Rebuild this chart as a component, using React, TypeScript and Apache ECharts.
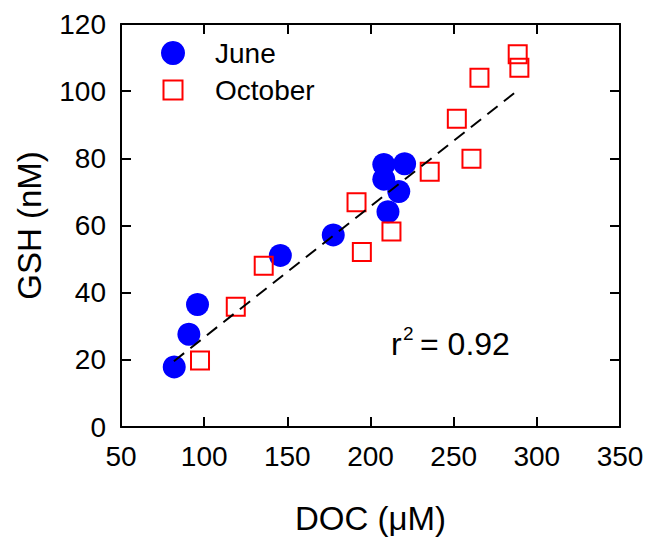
import React, { useEffect, useRef } from "react";
import * as echarts from "echarts";

// DOC (µM) and GSH (nM) values
const juneDOC = [82, 90.8, 96, 145.8, 177.6, 208, 220.5, 208, 217, 210.5];
const juneGSH = [17.9, 27.6, 36.5, 51.1, 57.2, 78.2, 78.4, 73.8, 70.1, 64.1];

const octDOC = [97.5, 119, 135.8, 191.6, 194.8, 212.6, 235.6, 260.7, 251.9, 265.5, 288.5, 289.5];
const octGSH = [19.8, 35.8, 48, 66.9, 52.1, 58.2, 76, 79.9, 91.8, 104, 111, 107];

// regression line end points
const fitDOC = [81.8, 290];
const fitGSH = [19.6, 100.8];

const seriesNames = ["June", "October"];
const r2Label = "0.92";

const FONT = "'Liberation Sans', Arial, Helvetica, sans-serif";

export default function App() {
  const ref = useRef<HTMLDivElement>(null);

  useEffect(() => {
    document.body.style.margin = "0";
    if (!ref.current) return;
    const chart = echarts.init(ref.current, null, { renderer: "svg" });

    const zip = (a: number[], b: number[]) => a.map((v, i) => [v, b[i]]);

    const axisCommon = {
      type: "value" as const,
      axisLine: { show: true, onZero: false, lineStyle: { color: "#000", width: 2 } },
      axisTick: { show: true, inside: true, length: 10, lineStyle: { color: "#000", width: 2 } },
      splitLine: { show: false },
    };

    chart.setOption({
      animation: false,
      backgroundColor: "#fff",
      grid: {
        left: 121,
        right: 27,
        top: 24,
        bottom: 110,
        containLabel: false,
        outerBoundsMode: "none",
      },
      xAxis: [
        {
          ...axisCommon,
          position: "bottom",
          min: 50,
          max: 350,
          interval: 50,
          axisLabel: { fontSize: 28, color: "#000", fontFamily: FONT, margin: 15 },
          name: "DOC (\u03bcM)",
          nameLocation: "middle",
          nameGap: 75,
          nameTextStyle: { fontSize: 33, color: "#000", fontFamily: FONT },
        },
        {
          ...axisCommon,
          position: "top",
          min: 50,
          max: 350,
          interval: 50,
          axisLabel: { show: false },
        },
      ],
      yAxis: [
        {
          ...axisCommon,
          position: "left",
          min: 0,
          max: 120,
          interval: 20,
          axisLabel: { fontSize: 28, color: "#000", fontFamily: FONT, margin: 15 },
          name: "GSH (nM)",
          nameLocation: "middle",
          nameGap: 75,
          nameTextStyle: { fontSize: 33, color: "#000", fontFamily: FONT },
        },
        {
          ...axisCommon,
          position: "right",
          min: 0,
          max: 120,
          interval: 20,
          axisLabel: { show: false },
        },
      ],
      legend: {
        orient: "vertical",
        left: 155,
        top: 34,
        itemWidth: 24,
        itemHeight: 24,
        itemGap: 9,
        data: [
          { name: seriesNames[0], icon: "circle" },
          { name: seriesNames[1], icon: "path://M0,0M24,24M2.5,2.5H21.5V21.5H2.5Z" },
        ],
        textStyle: {
          fontSize: 28,
          color: "#000",
          fontFamily: FONT,
          lineHeight: 28,
          padding: [0, 0, 0, 25],
        },
      },
      graphic: [
        {
          type: "text",
          x: 391,
          y: 344,
          style: { text: "r", font: `32px ${FONT}`, fill: "#000", verticalAlign: "middle" },
        },
        {
          type: "text",
          x: 403,
          y: 333,
          style: { text: "2", font: `19px ${FONT}`, fill: "#000", verticalAlign: "middle" },
        },
        {
          type: "text",
          x: 420,
          y: 344,
          style: { text: "= " + r2Label, font: `32px ${FONT}`, fill: "#000", verticalAlign: "middle" },
        },
      ],
      series: [
        {
          name: seriesNames[0],
          type: "scatter",
          symbol: "circle",
          symbolSize: 23,
          itemStyle: { color: "#0000ff", opacity: 1 },
          data: zip(juneDOC, juneGSH),
        },
        {
          name: seriesNames[1],
          type: "scatter",
          symbol: "rect",
          symbolSize: 18,
          itemStyle: { color: "transparent", borderColor: "#ff0000", borderWidth: 2, opacity: 1 },
          data: zip(octDOC, octGSH),
        },
        {
          name: "fit",
          type: "line",
          symbol: "none",
          silent: true,
          lineStyle: { color: "#000", width: 2, type: [13, 8] },
          data: zip(fitDOC, fitGSH),
          z: 5,
        },
      ],
    });

    return () => chart.dispose();
  }, []);

  return <div ref={ref} style={{ width: 647, height: 537 }} />;
}
